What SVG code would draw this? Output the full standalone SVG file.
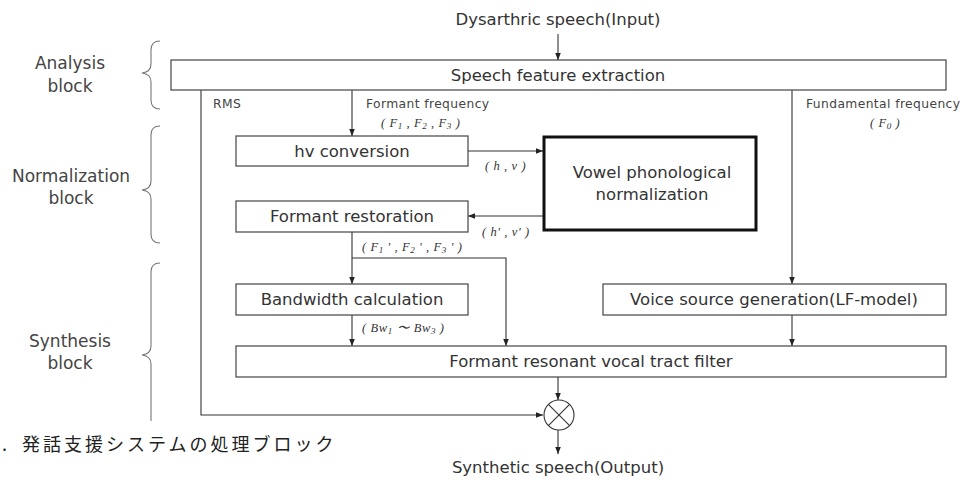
<svg xmlns="http://www.w3.org/2000/svg" width="968" height="480" viewBox="0 0 968 480">
<defs>
<marker id="ah" viewBox="0 0 10 10" refX="10" refY="5" markerWidth="7" markerHeight="7" markerUnits="userSpaceOnUse" orient="auto">
<path d="M0,1 L10,5 L0,9 Z" fill="#222"/>
</marker>
</defs>
<style>
.box{fill:#fff;stroke:#444;stroke-width:1.2}
.thick{fill:#fff;stroke:#111;stroke-width:3}
.t{font-family:"DejaVu Sans","Noto Sans CJK JP",sans-serif;font-size:16.5px;fill:#333;text-anchor:middle}
.lb{font-family:"DejaVu Sans",sans-serif;font-size:17px;fill:#444;text-anchor:middle}
.s{font-family:"DejaVu Sans",sans-serif;font-size:12.3px;fill:#444;letter-spacing:0.4px}
.m{font-family:"Liberation Serif",serif;font-size:12.5px;font-style:italic;fill:#333;letter-spacing:0.6px}
.c{fill:none;stroke:#333;stroke-width:1.1}
.a{marker-end:url(#ah)}
.br{fill:none;stroke:#777;stroke-width:1.1}
.cap{font-family:"Noto Sans CJK JP",sans-serif;font-size:18px;fill:#222}
</style>

<g id="labels">
<text class="lb" x="70" y="69">Analysis</text>
<text class="lb" x="70" y="92">block</text>
<text class="lb" x="71" y="182">Normalization</text>
<text class="lb" x="71" y="204">block</text>
<text class="lb" x="70" y="347">Synthesis</text>
<text class="lb" x="70" y="369">block</text>
<path class="br" d="M160,41 Q151,41 151,50 V64 Q151,72 142,73 Q151,74 151,82 V100 Q151,109 160,109"/>
<path class="br" d="M160,126 Q151,126 151,135 V181 Q151,189 142,190 Q151,191 151,199 V234 Q151,243 160,243"/>
<path class="br" d="M160,263 Q151,263 151,272 V346 Q151,354 142,355 Q151,356 151,364 V421"/>
</g>

<g id="connectors">
<line class="c a" x1="558" y1="34" x2="558" y2="60"/>
<line class="c a" x1="352" y1="90" x2="352" y2="136"/>
<path class="c a" d="M201,90 V415 H543"/>
<line class="c a" x1="792" y1="90" x2="792" y2="284"/>
<line class="c a" x1="468" y1="151" x2="543" y2="151"/>
<line class="c a" x1="543" y1="216" x2="468" y2="216"/>
<line class="c a" x1="352" y1="232" x2="352" y2="284"/>
<path class="c a" d="M352,258 H506 V346"/>
<line class="c a" x1="352" y1="315" x2="352" y2="346"/>
<line class="c a" x1="792" y1="315" x2="792" y2="346"/>
<line class="c a" x1="558" y1="377" x2="558" y2="400"/>
<line class="c a" x1="558" y1="430" x2="558" y2="454"/>
</g>

<g id="input"><text class="t" x="558" y="25">Dysarthric speech(Input)</text></g>

<g id="speech-feature-extraction">
<rect class="box" x="171" y="60" width="775" height="30"/>
<text class="t" x="558" y="81">Speech feature extraction</text>
</g>

<g id="edge-labels">
<text class="s" x="213" y="108">RMS</text>
<text class="s" x="366" y="108">Formant frequency</text>
<text class="m" x="381" y="127">( F<tspan font-size="9" dy="2">1</tspan><tspan dy="-2"> , F</tspan><tspan font-size="9" dy="2">2</tspan><tspan dy="-2"> , F</tspan><tspan font-size="9" dy="2">3</tspan><tspan dy="-2"> )</tspan></text>
<text class="s" x="806" y="108">Fundamental frequency</text>
<text class="m" x="870" y="127">( F<tspan font-size="9" dy="2">0</tspan><tspan dy="-2"> )</tspan></text>
<text class="m" x="485" y="170">( h , v )</text>
<text class="m" x="482" y="236">( h' , v' )</text>
<text class="m" x="362" y="251">( F<tspan font-size="9" dy="2">1</tspan><tspan dy="-2"> ' , F</tspan><tspan font-size="9" dy="2">2</tspan><tspan dy="-2"> ' , F</tspan><tspan font-size="9" dy="2">3</tspan><tspan dy="-2"> ' )</tspan></text>
<text class="m" x="362" y="332">( Bw<tspan font-size="9" dy="2">1</tspan><tspan dy="-2"> 〜 Bw</tspan><tspan font-size="9" dy="2">3</tspan><tspan dy="-2"> )</tspan></text>
</g>

<g id="hv-conversion">
<rect class="box" x="236" y="136" width="232" height="30"/>
<text class="t" x="352" y="157">hv conversion</text>
</g>

<g id="vowel-normalization">
<rect class="thick" x="544" y="137" width="212" height="93"/>
<text class="t" x="652" y="178">Vowel phonological</text>
<text class="t" x="652" y="200">normalization</text>
</g>

<g id="formant-restoration">
<rect class="box" x="236" y="201" width="232" height="31"/>
<text class="t" x="352" y="222">Formant restoration</text>
</g>

<g id="bandwidth-calculation">
<rect class="box" x="236" y="284" width="232" height="31"/>
<text class="t" x="352" y="305">Bandwidth calculation</text>
</g>

<g id="voice-source">
<rect class="box" x="603" y="284" width="343" height="31"/>
<text class="t" x="774" y="305">Voice source generation(LF-model)</text>
</g>

<g id="formant-filter">
<rect class="box" x="236" y="346" width="710" height="31"/>
<text class="t" x="591" y="367">Formant resonant vocal tract filter</text>
</g>

<g id="multiplier">
<circle cx="559" cy="415" r="15" fill="#fff" stroke="#333" stroke-width="1.1"/>
<line class="c" x1="548.4" y1="404.4" x2="569.6" y2="425.6"/>
<line class="c" x1="569.6" y1="404.4" x2="548.4" y2="425.6"/>
</g>

<g id="output"><text class="t" x="558" y="473">Synthetic speech(Output)</text></g>

<g id="caption">
<text class="cap" x="2" y="451">.</text>
<text class="cap" x="22" y="451" letter-spacing="3">発話支援システムの処理ブロック</text>
</g>
</svg>
